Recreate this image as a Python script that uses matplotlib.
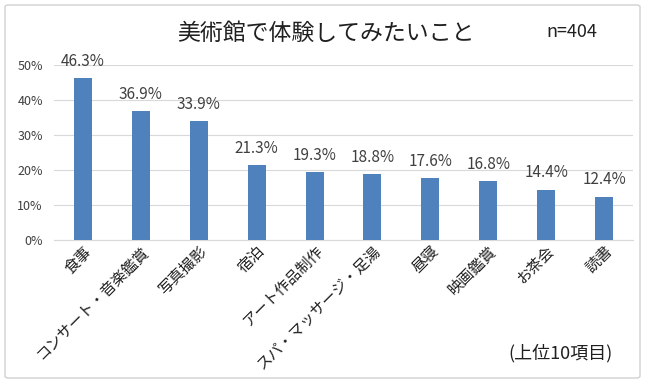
import matplotlib
matplotlib.use("Agg")
import matplotlib.pyplot as plt
from matplotlib.ticker import PercentFormatter
from matplotlib.patches import FancyBboxPatch

plt.rcParams['font.family'] = ['Noto Sans CJK JP', 'DejaVu Sans']

categories = ["食事", "コンサート・音楽鑑賞", "写真撮影", "宿泊", "アート作品制作",
              "スパ・マッサージ・足湯", "昼寝", "映画鑑賞", "お茶会", "読書"]
values = [46.3, 36.9, 33.9, 21.3, 19.3, 18.8, 17.6, 16.8, 14.4, 12.4]
yticks = [0, 10, 20, 30, 40, 50]

fig = plt.figure(figsize=(6.5, 3.88), dpi=100)
fig.patch.set_facecolor('white')
fig.patches.append(FancyBboxPatch((5/650, 10/388), 635/650, 373/388,
                                  boxstyle="round,pad=0,rounding_size=0.005",
                                  transform=fig.transFigure, fill=False,
                                  edgecolor='#d0d0d0', linewidth=1.0))

ax = fig.add_axes([54/650, 1-240/388, 579/650, 175/388])
x = range(len(categories))
ax.bar(x, values, width=0.31, color='#4F81BD', zorder=3)
ax.set_ylim(0, 50)
ax.set_xlim(-0.5, len(categories) - 0.5)
ax.set_yticks(yticks)
ax.yaxis.set_major_formatter(PercentFormatter(decimals=0))
ax.grid(axis='y', color='#d9d9d9', linewidth=0.8, zorder=0)
for s in ['top', 'right', 'left']:
    ax.spines[s].set_visible(False)
ax.spines['bottom'].set_color('#d9d9d9')
ax.tick_params(axis='y', length=0, labelsize=9, labelcolor='#404040', pad=8)
ax.tick_params(axis='x', length=0, pad=2)
ax.set_xticks(list(x))
ax.set_xticklabels(categories, rotation=45, ha='right', rotation_mode='anchor',
                   fontsize=11, color='#202020')

for i, v in enumerate(values):
    ax.annotate(f"{v:.1f}%", (i, v), xytext=(0, 6), textcoords='offset points',
                ha='center', va='bottom', fontsize=11, color='#404040')

fig.text(326/650, 1-33/388, "美術館で体験してみたいこと", ha='center', va='center',
         fontsize=16.5, color='#202020')
fig.text(572/650, 1-32/388, "n=404", ha='center', va='center', fontsize=13,
         color='#202020')
fig.text(560/650, 1-353/388, "(上位10項目)", ha='center', va='center', fontsize=13,
         color='#202020')

fig.savefig("out.png", dpi=100)
